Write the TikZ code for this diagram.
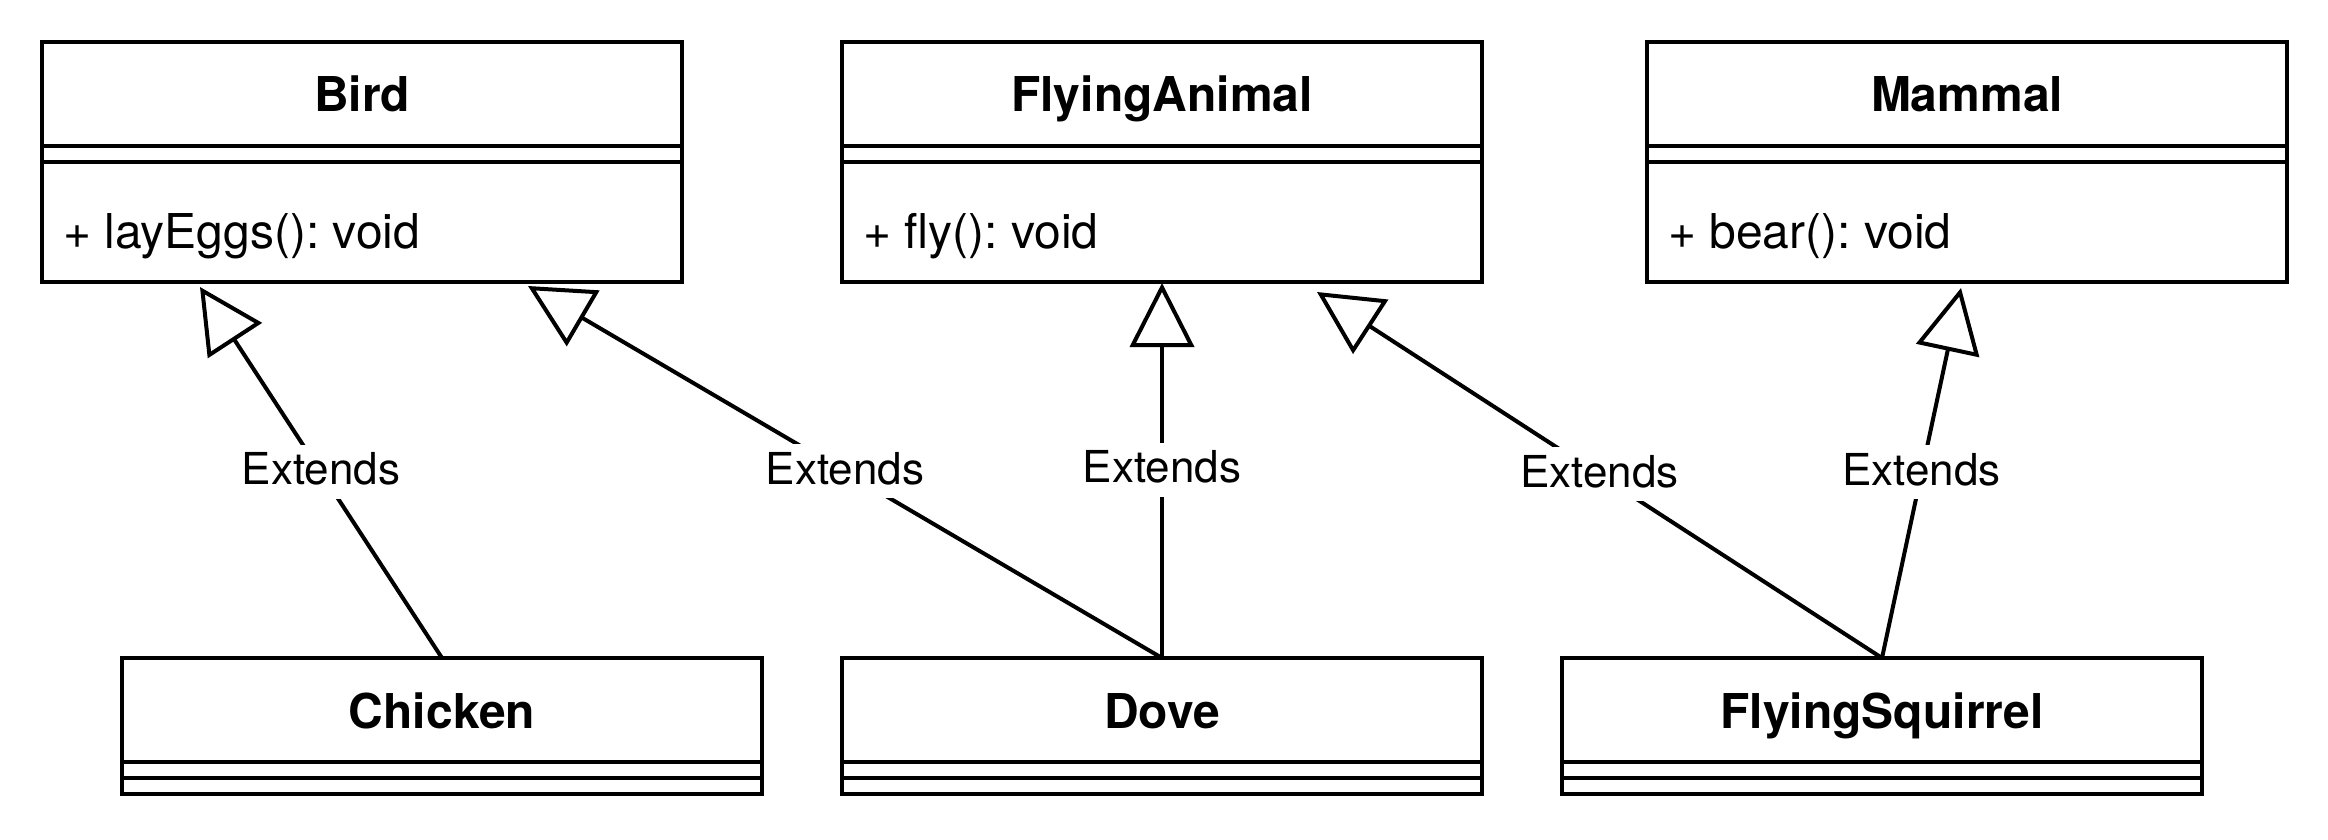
\documentclass[tikz,border=0pt]{standalone}
\usepackage{fontspec}
\setmainfont{TeX Gyre Heros}
\usetikzlibrary{arrows.meta,calc}
\frenchspacing
\begin{document}
\begin{tikzpicture}[x=1pt,y=-1pt,
  classbox/.style={draw, line width=4pt, minimum width=640pt, inner sep=0pt, outer sep=0pt, anchor=north west},
  nametext/.style={font=\fontsize{48}{56}\selectfont\bfseries, inner sep=0pt, anchor=base},
  methtext/.style={font=\fontsize{48}{56}\selectfont, inner sep=0pt, anchor=base west},
  sepline/.style={line width=4pt},
  ext/.style={line width=4pt, -{Triangle[open, length=64pt, width=64pt]}},
  lbl/.style={font=\fontsize{44}{52}\selectfont, fill=white, inner xsep=3pt, inner ysep=0pt, minimum height=54pt, text height=26pt, text depth=0pt, yshift=1pt}
]
\useasboundingbox (0,0) rectangle (2328,840);

% top row
\node[classbox, minimum height=240pt] (bird) at (42,42) {};
\node[classbox, minimum height=240pt] (fa) at (842,42) {};
\node[classbox, minimum height=240pt] (mammal) at (1647,42) {};
% bottom row
\node[classbox, minimum height=136pt] (chicken) at (122,658) {};
\node[classbox, minimum height=136pt] (dove) at (842,658) {};
\node[classbox, minimum height=136pt] (fs) at (1562,658) {};

% compartments of the top row
\foreach \c/\n/\m in {bird/Bird/{+ layEggs(): void}, fa/FlyingAnimal/{+ fly(): void}, mammal/Mammal/{+ bear(): void}}{
  \node[nametext] (\c-name) at ($(\c.north)+(0,70)$) {\n};
  \draw[sepline] ($(\c.north west)+(0,104)$) -- ($(\c.north east)+(0,104)$);
  \draw[sepline] ($(\c.north west)+(0,120)$) -- ($(\c.north east)+(0,120)$);
  \node[methtext] (\c-meth) at ($(\c.north west)+(21,206)$) {\m};
}
% compartments of the bottom row
\foreach \c/\n in {chicken/Chicken, dove/Dove, fs/FlyingSquirrel}{
  \node[nametext] (\c-name) at ($(\c.north)+(0,70)$) {\n};
  \draw[sepline] ($(\c.north west)+(0,104)$) -- ($(\c.north east)+(0,104)$);
  \draw[sepline] ($(\c.north west)+(0,120)$) -- ($(\c.north east)+(0,120)$);
}

% arrow end points
\coordinate (birdA) at (200,287);
\coordinate (birdB) at (528,286);
\coordinate (faA) at (1162,283);
\coordinate (faB) at (1317,292);
\coordinate (mammalA) at (1961,288);

\draw[ext] (chicken.north) -- node[lbl] {Extends} (birdA);
\draw[ext] (dove.north) -- node[lbl] {Extends} (birdB);
\draw[ext] (dove.north) -- node[lbl] {Extends} (faA);
\draw[ext] (fs.north) -- node[lbl] {Extends} (faB);
\draw[ext] (fs.north) -- node[lbl] {Extends} (mammalA);
\end{tikzpicture}
\end{document}
